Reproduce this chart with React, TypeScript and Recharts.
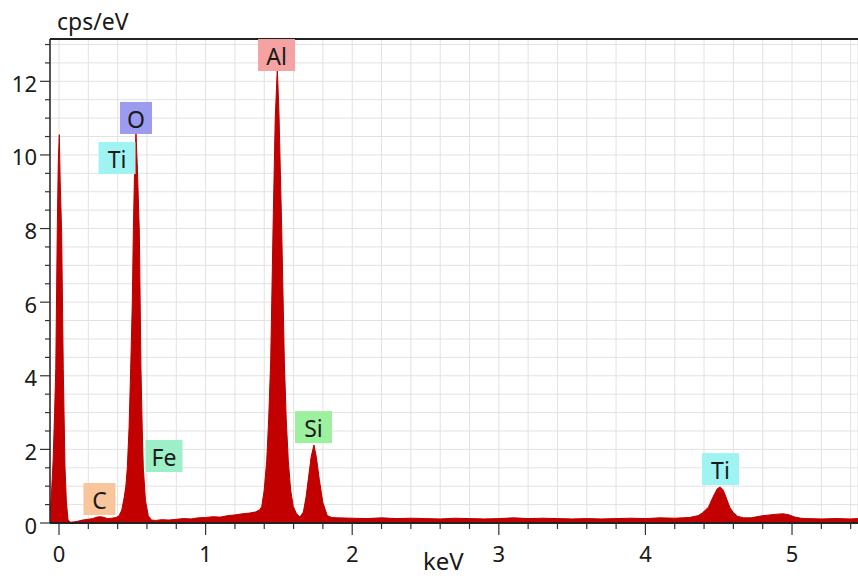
import React from "react"
import { Area, AreaChart, CartesianGrid, ReferenceDot, ReferenceLine, XAxis, YAxis } from "recharts"

// EDS spectrum (keV -> cps/eV)
const energies = [
  -0.06, -0.05, -0.04, -0.03, -0.022, -0.012, -0.005, 0.002, 0.008, 0.018, 0.029, 0.041, 0.05, 0.061, 0.075,
  0.1, 0.13, 0.16, 0.2, 0.23, 0.26, 0.28, 0.3, 0.33, 0.36, 0.39, 0.41, 0.428, 0.445, 0.456, 0.466, 0.478,
  0.489, 0.5, 0.507, 0.515, 0.525, 0.535, 0.548, 0.559, 0.568, 0.575, 0.59, 0.609, 0.63, 0.66, 0.7, 0.75,
  0.8, 0.85, 0.9, 0.95, 1.0, 1.05, 1.1, 1.15, 1.2, 1.25, 1.3, 1.34, 1.37, 1.383, 1.4, 1.417, 1.43, 1.444,
  1.46, 1.475, 1.489, 1.5, 1.519, 1.537, 1.55, 1.564, 1.58, 1.598, 1.62, 1.644, 1.667, 1.685, 1.7, 1.72,
  1.739, 1.755, 1.776, 1.8, 1.83, 1.86, 1.9, 2.0, 2.1, 2.2, 2.3, 2.4, 2.5, 2.6, 2.7, 2.8, 2.9, 3.0, 3.1,
  3.2, 3.3, 3.4, 3.5, 3.6, 3.7, 3.8, 3.9, 4.0, 4.1, 4.2, 4.3, 4.36, 4.39, 4.43, 4.46, 4.49, 4.51, 4.53,
  4.55, 4.575, 4.6, 4.63, 4.67, 4.72, 4.76, 4.8, 4.85, 4.9, 4.94, 4.98, 5.02, 5.06, 5.1, 5.2, 5.3, 5.4, 5.45,
]
const counts = [
  0.3, 0.9, 1.7, 3.0, 4.2, 7.9, 9.8, 10.55, 9.3, 7.9, 4.2, 1.5, 0.6, 0.1, 0.02,
  0.03, 0.05, 0.08, 0.1, 0.12, 0.16, 0.17, 0.16, 0.12, 0.13, 0.15, 0.2, 0.35, 0.7, 1.0, 1.5, 2.6,
  4.2, 6.0, 7.9, 9.5, 10.6, 9.6, 7.9, 4.2, 2.5, 1.5, 0.6, 0.2, 0.08, 0.07, 0.09, 0.08,
  0.1, 0.12, 0.11, 0.14, 0.15, 0.17, 0.16, 0.2, 0.22, 0.25, 0.27, 0.3, 0.36, 0.45, 0.9, 1.7, 2.8, 4.4,
  8.0, 11.0, 12.35, 11.2, 8.0, 4.4, 2.8, 1.7, 0.9, 0.45, 0.25, 0.16, 0.3, 0.7, 1.17, 1.8,
  2.12, 1.8, 1.17, 0.55, 0.2, 0.15, 0.14, 0.13, 0.12, 0.14, 0.12, 0.13, 0.12, 0.11, 0.13, 0.12, 0.11, 0.12, 0.14,
  0.12, 0.13, 0.12, 0.11, 0.12, 0.11, 0.12, 0.13, 0.12, 0.14, 0.13, 0.15, 0.2, 0.28, 0.43, 0.7, 0.93, 0.98, 0.9,
  0.7, 0.43, 0.28, 0.18, 0.14, 0.14, 0.17, 0.2, 0.22, 0.24, 0.25, 0.22, 0.16, 0.13, 0.12, 0.11, 0.12, 0.11, 0.12,
]

// element markers: name, energy, height of the label's lower edge
const elements = ["Al", "O", "Ti", "Fe", "C", "Si", "Ti"]
const elementKev = [1.484, 0.525, 0.396, 0.716, 0.276, 1.736, 4.512]
const elementY = [12.28, 10.57, 9.48, 1.386, 0.217, 2.17, 1.03]
const elementColors = ["#f4a2a2", "#9b9bef", "#9ff3f3", "#9cefc6", "#f9c59b", "#9df09d", "#9ff3f3"]

const xTicks = [0, 0.2, 0.4, 0.6, 0.8, 1, 1.2, 1.4, 1.6, 1.8, 2, 2.2, 2.4, 2.6, 2.8, 3, 3.2, 3.4, 3.6, 3.8, 4, 4.2, 4.4, 4.6, 4.8, 5, 5.2, 5.4]
const yTicks = [0, 0.5, 1, 1.5, 2, 2.5, 3, 3.5, 4, 4.5, 5, 5.5, 6, 6.5, 7, 7.5, 8, 8.5, 9, 9.5, 10, 10.5, 11, 11.5, 12, 12.5, 13]
const yLabels = [0, 2, 4, 6, 8, 10, 12]

const X_MIN = -0.0614
const X_MAX = 5.45
const Y_MAX = 13.15

const data = energies.map((kev, i) => ({ kev, cps: counts[i] }))

const FONT = "'Noto Sans', sans-serif"
const INK = "#1a1a1a"

function XTick({ x, y, payload }: any) {
  const major = Number.isInteger(payload.value)
  return (
    <g>
      <line x1={x} x2={x} y1={y} y2={y + (major ? 12 : 6)} stroke="#333" strokeWidth={1.2} />
      {major && (
        <text x={x} y={y + 39} textAnchor="middle" fontSize={22} fontFamily={FONT} fill={INK}>
          {payload.value}
        </text>
      )}
    </g>
  )
}

function YTick({ x, y, payload }: any) {
  const major = yLabels.includes(payload.value)
  return (
    <g>
      <line x1={x - (major ? 10 : 5)} x2={x} y1={y} y2={y} stroke="#333" strokeWidth={1.2} />
      {major && (
        <text x={x - 13} y={y + 10.5} textAnchor="end" fontSize={22} fontFamily={FONT} fill={INK}>
          {payload.value}
        </text>
      )}
    </g>
  )
}

function elementLabel(i: number) {
  return ({ cx, cy }: any) => {
    const w = elements[i].length === 1 ? 32 : 37
    const h = 32
    return (
      <g>
        <rect x={cx - w / 2} y={cy - h} width={w} height={h} fill={elementColors[i]} />
        <text x={cx} y={cy - 6} textAnchor="middle" fontSize={23} fontFamily={FONT} fill={INK}>
          {elements[i]}
        </text>
      </g>
    )
  }
}

export default function App() {
  return (
    <div style={{ position: "absolute", left: 0, top: 0, width: 858, height: 576, background: "#fff", fontFamily: FONT }}>
      <AreaChart width={858} height={576} data={data} margin={{ top: 39, right: 0, bottom: 0, left: 0 }}>
        <CartesianGrid stroke="#e2e2e2" strokeWidth={1} />
        <XAxis
          dataKey="kev"
          type="number"
          domain={[X_MIN, X_MAX]}
          ticks={xTicks}
          allowDataOverflow
          height={53}
          tickSize={0}
          tickMargin={0}
          tickLine={false}
          axisLine={{ stroke: "#222", strokeWidth: 2 }}
          tick={<XTick />}
          interval={0}
        />
        <YAxis
          type="number"
          domain={[0, Y_MAX]}
          ticks={yTicks}
          allowDataOverflow
          width={50}
          tickSize={0}
          tickMargin={0}
          tickLine={false}
          axisLine={{ stroke: "#222", strokeWidth: 1.5 }}
          tick={<YTick />}
          interval={0}
        />
        <ReferenceLine y={Y_MAX} stroke="#222" strokeWidth={2} />
        <Area
          type="linear"
          dataKey="cps"
          stroke="#b80000"
          strokeWidth={1}
          fill="#c20000"
          fillOpacity={1}
          isAnimationActive={false}
          dot={false}
          activeDot={false}
        />
        {elements.map((el, i) => (
          <ReferenceDot key={el + i} x={elementKev[i]} y={elementY[i]} ifOverflow="visible" shape={elementLabel(i)} />
        ))}
      </AreaChart>
      <div style={{ position: "absolute", left: 57, top: 5, fontSize: 23, color: INK, whiteSpace: "nowrap" }}>cps/eV</div>
      <div style={{ position: "absolute", left: 423, top: 544, fontSize: 24, color: INK, whiteSpace: "nowrap" }}>keV</div>
    </div>
  )
}
